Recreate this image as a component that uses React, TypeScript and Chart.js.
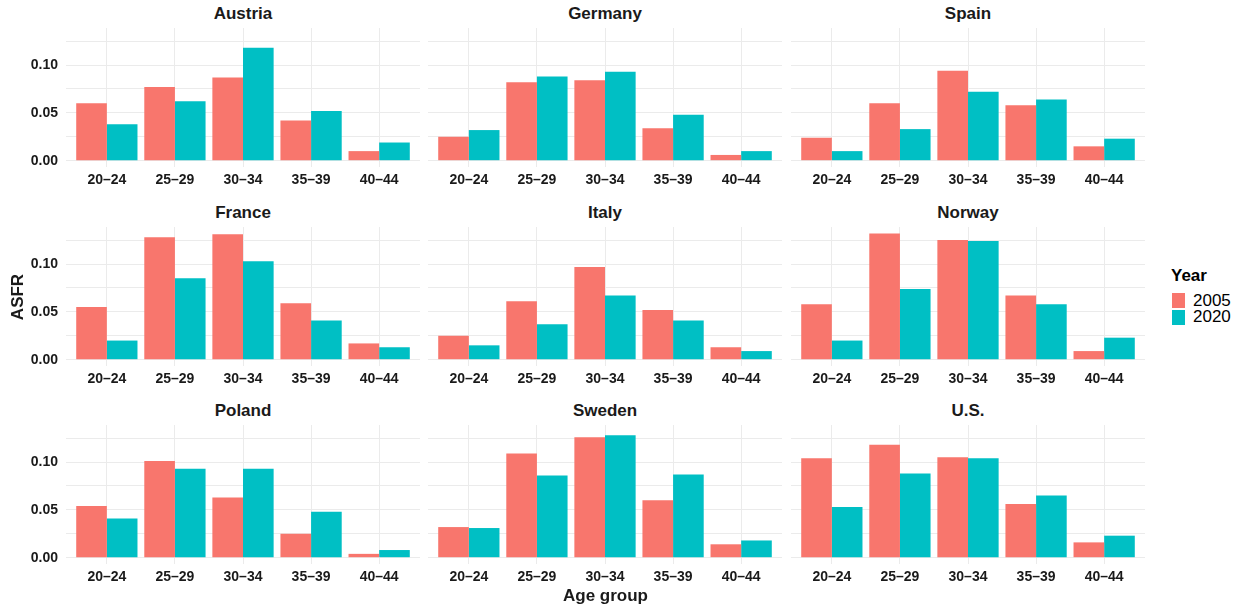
import React, { useEffect, useRef } from "react";
import { Chart, registerables } from "chart.js";

Chart.register(...registerables);

const FONT = '"Liberation Sans", Arial, Helvetica, sans-serif';
Chart.defaults.font.family = FONT;

// ---- data ----
const AGE_GROUPS = ["20–24", "25–29", "30–34", "35–39", "40–44"];
const YEARS = ["2005", "2020"];
const YEAR_COLORS = ["#F8766D", "#00BFC4"];

const AUSTRIA_2005 = [0.060, 0.077, 0.087, 0.042, 0.010];
const AUSTRIA_2020 = [0.038, 0.062, 0.118, 0.052, 0.019];
const GERMANY_2005 = [0.025, 0.082, 0.084, 0.034, 0.006];
const GERMANY_2020 = [0.032, 0.088, 0.093, 0.048, 0.010];
const SPAIN_2005 = [0.024, 0.060, 0.094, 0.058, 0.015];
const SPAIN_2020 = [0.010, 0.033, 0.072, 0.064, 0.023];
const FRANCE_2005 = [0.055, 0.128, 0.131, 0.059, 0.017];
const FRANCE_2020 = [0.020, 0.085, 0.103, 0.041, 0.013];
const ITALY_2005 = [0.025, 0.061, 0.097, 0.052, 0.013];
const ITALY_2020 = [0.015, 0.037, 0.067, 0.041, 0.009];
const NORWAY_2005 = [0.058, 0.132, 0.125, 0.067, 0.009];
const NORWAY_2020 = [0.020, 0.074, 0.124, 0.058, 0.023];
const POLAND_2005 = [0.054, 0.101, 0.063, 0.025, 0.004];
const POLAND_2020 = [0.041, 0.093, 0.093, 0.048, 0.008];
const SWEDEN_2005 = [0.032, 0.109, 0.126, 0.060, 0.014];
const SWEDEN_2020 = [0.031, 0.086, 0.128, 0.087, 0.018];
const US_2005 = [0.104, 0.118, 0.105, 0.056, 0.016];
const US_2020 = [0.053, 0.088, 0.104, 0.065, 0.023];

const Y_TICKS = [0, 0.025, 0.05, 0.075, 0.1, 0.125];
const Y_LABELLED = [0, 0.05, 0.1];
const Y_MIN = -0.0066;
const Y_MAX = 0.1387;

const PANELS = [
  { name: "Austria", s2005: AUSTRIA_2005, s2020: AUSTRIA_2020 },
  { name: "Germany", s2005: GERMANY_2005, s2020: GERMANY_2020 },
  { name: "Spain", s2005: SPAIN_2005, s2020: SPAIN_2020 },
  { name: "France", s2005: FRANCE_2005, s2020: FRANCE_2020 },
  { name: "Italy", s2005: ITALY_2005, s2020: ITALY_2020 },
  { name: "Norway", s2005: NORWAY_2005, s2020: NORWAY_2020 },
  { name: "Poland", s2005: POLAND_2005, s2020: POLAND_2020 },
  { name: "Sweden", s2005: SWEDEN_2005, s2020: SWEDEN_2020 },
  { name: "U.S.", s2005: US_2005, s2020: US_2020 },
];

// ---- layout ----
const COL_LEFT = [66, 428, 791];
const ROW_TOP = [28, 227, 425];
const PANEL_W = 354;
const PANEL_H = 139;
const AXIS_H = 30;
const TEXT = "#1a1a1a";
const GRID = "#EBEBEB";

function clearPadding(s) {
  s.paddingTop = 0;
  s.paddingBottom = 0;
  s.paddingLeft = 0;
  s.paddingRight = 0;
}

function Panel({ name, s2005, s2020, col, row }) {
  const ref = useRef(null);
  const leftW = col === 0 ? COL_LEFT[0] : 0;
  const width = leftW + PANEL_W;
  const height = PANEL_H + AXIS_H;

  useEffect(() => {
    const series = [s2005, s2020];
    const chart = new Chart(ref.current, {
      type: "bar",
      data: {
        datasets: YEARS.map((yr, k) => ({
          label: yr,
          data: series[k].map((v, i) => ({ x: i + 1, y: v })),
          backgroundColor: YEAR_COLORS[k],
          borderWidth: 0,
          categoryPercentage: 0.9,
          barPercentage: 1,
        })),
      },
      options: {
        responsive: false,
        animation: false,
        layout: { padding: 0, autoPadding: false },
        plugins: { legend: { display: false }, tooltip: { enabled: false }, title: { display: false } },
        scales: {
          x: {
            type: "linear",
            min: 0.4,
            max: 5.6,
            offset: false,
            bounds: "data",
            afterBuildTicks: (s) => {
              s.ticks = AGE_GROUPS.map((_, i) => ({ value: i + 1 }));
            },
            afterFit: (s) => {
              s.height = AXIS_H;
              clearPadding(s);
            },
            grid: { color: GRID, lineWidth: 1, drawTicks: false, offset: false },
            border: { display: false },
            ticks: {
              padding: 5,
              color: TEXT,
              font: { size: 14, weight: "bold" },
              maxRotation: 0,
              autoSkip: false,
              callback: (v) => AGE_GROUPS[Math.round(v) - 1] ?? "",
            },
          },
          y: {
            type: "linear",
            min: Y_MIN,
            max: Y_MAX,
            bounds: "data",
            afterBuildTicks: (s) => {
              s.ticks = Y_TICKS.map((v) => ({ value: v }));
            },
            afterFit: (s) => {
              s.width = leftW;
              clearPadding(s);
            },
            grid: { color: GRID, lineWidth: 1, drawTicks: false },
            border: { display: false },
            ticks: {
              display: col === 0,
              padding: 8,
              color: TEXT,
              font: { size: 14, weight: "bold" },
              callback: (v) =>
                Y_LABELLED.some((t) => Math.abs(t - v) < 1e-9) ? Number(v).toFixed(2) : "",
            },
          },
        },
      },
    });
    return () => chart.destroy();
  }, [s2005, s2020, col, leftW]);

  return (
    <>
      <canvas
        ref={ref}
        width={width}
        height={height}
        style={{
          position: "absolute",
          left: COL_LEFT[col] - leftW,
          top: ROW_TOP[row],
          width,
          height,
        }}
      />
      <div
        style={{
          position: "absolute",
          left: COL_LEFT[col],
          width: PANEL_W,
          top: ROW_TOP[row] - 24,
          height: 20,
          lineHeight: "20px",
          textAlign: "center",
          fontWeight: "bold",
          fontSize: 17,
          color: TEXT,
        }}
      >
        {name}
      </div>
    </>
  );
}

export default function App() {
  return (
    <div
      style={{
        position: "fixed",
        left: 0,
        top: 0,
        width: 1245,
        height: 609,
        background: "#fff",
        overflow: "hidden",
        fontFamily: FONT,
      }}
    >
      {PANELS.map((p, i) => (
        <Panel key={p.name} {...p} col={i % 3} row={Math.floor(i / 3)} />
      ))}
      <div
        style={{
          position: "absolute",
          left: 18 - 50,
          top: 296.5 - 10,
          width: 100,
          height: 20,
          lineHeight: "20px",
          textAlign: "center",
          fontWeight: "bold",
          fontSize: 17,
          color: TEXT,
          transform: "rotate(-90deg)",
        }}
      >
        ASFR
      </div>
      <div
        style={{
          position: "absolute",
          left: 605.5 - 100,
          top: 595.5 - 10,
          width: 200,
          height: 20,
          lineHeight: "20px",
          textAlign: "center",
          fontWeight: "bold",
          fontSize: 17,
          color: TEXT,
        }}
      >
        Age group
      </div>
      <div
        style={{
          position: "absolute",
          left: 1171,
          top: 266,
          height: 20,
          lineHeight: "20px",
          fontWeight: "bold",
          fontSize: 17,
          color: "#000",
        }}
      >
        Year
      </div>
      {YEARS.map((yr, k) => (
        <React.Fragment key={yr}>
          <div
            style={{
              position: "absolute",
              left: 1172,
              top: 293 + k * 17,
              width: 13,
              height: 15,
              background: YEAR_COLORS[k],
            }}
          />
          <div
            style={{
              position: "absolute",
              left: 1193,
              top: 290.5 + k * 16.5,
              height: 20,
              lineHeight: "20px",
              fontSize: 17,
              color: "#000",
            }}
          >
            {yr}
          </div>
        </React.Fragment>
      ))}
    </div>
  );
}
